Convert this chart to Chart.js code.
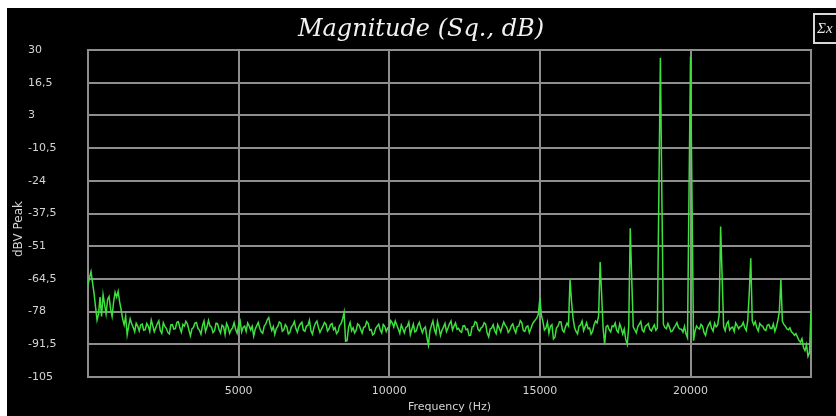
<!DOCTYPE html>
<html lang="en">
<head>
  <meta charset="UTF-8" />
  <title>Magnitude (Sq., dB)</title>
  <script src="https://cdn.jsdelivr.net/npm/chart.js"></script>
  <style>
    html, body { margin: 0; padding: 0; background: #fff; }
    #panel { position: absolute; left: 7px; top: 8px; width: 829px; height: 408px; background: #000; overflow: hidden; }
    #icon { position: absolute; left: 806px; top: 5px; width: 26px; height: 27px; border: 2px solid #d8d8d8;
            color: #e8e8e8; font: italic 15px "Liberation Serif"; line-height: 27px; padding-left: 2px; }
  </style>
</head>
<body>
  <div id="panel">
    <canvas id="spectrum"></canvas>
    <div id="icon">Σx</div>
  </div>

  <script>
    const chartTitle = 'Magnitude (Sq., dB)';
    const yAxisTitle = 'dBV Peak';
    const xAxisTitle = 'Frequency (Hz)';

    // spectrum bins: 0 Hz .. 24000 Hz, every 50 Hz (one row = 1 kHz)
    const freqStart = 0;
    const freqStep = 50;
    const magDb = [
      -67, -64, -61.5, -66, -70.4, -76, -81.5, -79, -72, -80, -71, -75, -79, -73, -71.8, -77, -80, -74, -70, -72,
      -69.7, -74, -77.3, -81, -83.5, -80, -87.6, -84, -81, -83, -84.5, -86.3, -82.8, -84, -86, -83.5, -83.2, -85.7, -85.5, -82.9,
      -84, -86.2, -81.5, -83.8, -86.3, -84.7, -83, -81.8, -85.8, -87, -82.6, -84.1, -84.9, -86.6, -87.2, -83.5, -83.4, -85.2, -85, -82.4,
      -82.2, -84.8, -86.5, -83.3, -84, -82, -83.1, -85.6, -88, -85.1, -84.6, -82.7, -82.5, -84.9, -85.7, -87.3, -83.8, -81.9, -86.2, -84.4,
      -81.6, -83.9, -84.4, -86.7, -85.9, -82.8, -83, -85.4, -86.8, -83.6, -84.2, -87.4, -82.9, -84.3, -87, -85.5, -84.7, -82.6, -85.3, -86.9,
      -83.5, -81.8, -86.4, -84.5, -84, -86.2, -82.7, -83.9, -85.6, -84.1, -88.1, -85.3, -83.9, -82.5, -84.8, -86.3, -86.9, -84, -83.2, -81.4,
      -80.5, -83.6, -85.8, -84.2, -87.4, -85, -84.1, -82.3, -82.8, -86.1, -85.5, -83.4, -84.3, -87.2, -86.7, -84.4, -83.6, -82.1, -85, -86.5,
      -84.2, -83.1, -82.4, -85.7, -86.1, -84, -83.7, -81.6, -85.9, -87.3, -84.5, -82.8, -81.9, -84.6, -86.6, -85.2, -84, -82.5, -83.3, -86,
      -85.1, -83.4, -82.9, -85.5, -84.6, -87.1, -86.3, -83.8, -83, -81.2, -78.3, -90.2, -90, -84.4, -82.5, -85.9, -84.7, -86.8, -85.8, -83.1,
      -83.6, -85.3, -86.9, -84.5, -84.2, -82.1, -82.8, -85.7, -85.4, -87.6, -87.1, -84.9, -84, -83.2, -85.6, -86.8, -83.3, -84.1, -86.2, -84.7,
      -84.6, -81.7, -82.6, -84.3, -81.9, -83.5, -85.2, -87, -83.5, -85.1, -86.8, -84.6, -84.1, -82.4, -87.5, -85.3, -83.2, -86.4, -85.9, -83.6,
      -82.4, -84.9, -86.7, -85, -84.3, -88.7, -91.8, -86, -83.7, -81.8, -85.5, -87.2, -82.1, -84.6, -87.9, -85.7, -84.4, -82.9, -86.3, -84.8,
      -83, -81.9, -85.6, -84, -82.7, -85.3, -84.9, -86.1, -86.5, -83.9, -83.8, -85.5, -85.2, -87.9, -87.7, -84.3, -84.1, -82.2, -82.6, -85.4,
      -86, -84.7, -84.3, -82.6, -83.2, -86.9, -88.4, -85.2, -84.8, -83.4, -85.9, -87.1, -83.4, -84.8, -86.4, -84.2, -82.3, -83.7, -84.5, -86.6,
      -85.7, -83.9, -83.1, -85.4, -86.8, -84.1, -84, -81.7, -82.5, -85.8, -86.2, -84.3, -83.9, -86.7, -85.1, -83.2, -82.2, -81.4, -80.6, -79,
      -72.4, -79.5, -82, -85.6, -84.8, -82.4, -86.9, -84.1, -83.4, -89.3, -88.6, -84.8, -84, -82.2, -82.3, -85.7, -86.5, -84.3, -82.8, -83.9,
      -64.8, -73.8, -80.5, -84.6, -86.2, -87.2, -84, -83.5, -81.9, -85.9, -84.3, -82.6, -85.1, -84.8, -87.3, -86.1, -83.4, -81.9, -82.7, -79.8,
      -57.5, -71, -85, -91.5, -84.2, -83.7, -85.5, -86.4, -83.9, -84.2, -82.7, -85.8, -86.6, -83.1, -84.9, -87.3, -85.2, -89.5, -91.5, -84,
      -43.6, -65, -84.4, -85.5, -86.8, -84.3, -83.2, -82.1, -85.7, -86.4, -84.1, -83.6, -82.9, -85.3, -86, -84.6, -83.5, -85.7, -84.8, -29.5,
      26.8, -31, -83.2, -84.6, -85.1, -82.9, -84.4, -86.3, -86, -84.7, -83.8, -82.6, -84.6, -85.2, -85.3, -86.5, -84.1, -87.2, -88.8, -30.5,
      27.2, -31.5, -90, -86.2, -83.9, -84.8, -85.2, -83.3, -84.1, -86.7, -87.8, -84.9, -83.5, -82.4, -84.9, -86.1, -82.8, -84.3, -83.6, -79.5,
      -42.9, -63.6, -84.2, -85.9, -83, -82.1, -85.6, -84.7, -84.4, -86.2, -82.7, -83.8, -85.1, -84.2, -83.9, -82.5, -84.6, -85.8, -81.7, -70.4,
      -56, -81.8, -83.5, -82.2, -84.7, -86, -82.9, -83.7, -84.1, -85.4, -85.8, -83.6, -83.3, -84.9, -85, -83.1, -86.2, -84.4, -81.5, -78,
      -64.7, -82, -83.3, -84, -85.2, -85.5, -84.7, -86.3, -86.9, -87.8, -87.1, -88.5, -89.9, -90.6, -89.2, -92.8, -94.1, -91.7, -96.5, -95,
      -78
    ];

    const xTickValues = [5000, 10000, 15000, 20000];
    const xTickLabels = ['5000', '10000', '15000', '20000'];
    const yTickValues = [-105, -91.5, -78, -64.5, -51, -37.5, -24, -10.5, 3, 16.5, 30];
    const yTickLabels = ['-105', '-91,5', '-78', '-64,5', '-51', '-37,5', '-24', '-10,5', '3', '16,5', '30'];

    const gridGray = '#8e8e8e';
    const labelGray = '#d4d4d4';

    const points = magDb.map((v, i) => ({ x: freqStart + i * freqStep, y: v }));

    const frameAndText = {
      id: 'frameAndText',
      beforeDatasetsDraw(chart) {
        const { ctx, chartArea: a } = chart;
        ctx.save();
        ctx.strokeStyle = gridGray;
        ctx.lineWidth = 2;
        ctx.strokeRect(a.left, a.top, a.right - a.left, a.bottom - a.top);
        ctx.restore();
      },
      afterDraw(chart) {
        const ctx = chart.ctx;
        ctx.save();
        ctx.fillStyle = '#f2f2f2';
        ctx.textAlign = 'center';
        ctx.textBaseline = 'middle';
        ctx.font = 'italic 24px "DejaVu Serif"';
        ctx.fillText(chartTitle, 414, 22);
        ctx.fillStyle = labelGray;
        ctx.translate(12, 221);
        ctx.rotate(-Math.PI / 2);
        ctx.font = '12px "DejaVu Sans"';
        ctx.fillText(yAxisTitle, 0, 0);
        ctx.restore();
      }
    };

    new Chart(document.getElementById('spectrum'), {
      type: 'line',
      data: {
        datasets: [{
          data: points,
          borderColor: '#3ee03e',
          borderWidth: 1.5,
          pointRadius: 0,
          tension: 0
        }]
      },
      options: {
        responsive: true,
        maintainAspectRatio: false,
        animation: false,
        layout: { padding: { top: 42, left: 21, right: 25, bottom: 0 } },
        plugins: { legend: { display: false }, tooltip: { enabled: false } },
        scales: {
          x: {
            type: 'linear',
            min: 0,
            max: 24000,
            afterBuildTicks: s => { s.ticks = xTickValues.map(v => ({ value: v })); },
            afterFit: s => { s.height = 39; },
            grid: { color: gridGray, lineWidth: 2, drawTicks: false },
            border: { display: false },
            ticks: {
              color: labelGray,
              font: { family: 'DejaVu Sans', size: 11 },
              padding: 8,
              maxRotation: 0,
              callback: (v, i) => xTickLabels[i]
            },
            title: {
              display: true,
              text: xAxisTitle,
              color: labelGray,
              font: { family: 'DejaVu Sans', size: 11 },
              padding: { top: 0, bottom: 2 }
            }
          },
          y: {
            min: -105,
            max: 30,
            afterBuildTicks: s => { s.ticks = yTickValues.map(v => ({ value: v })); },
            afterFit: s => { s.width = 60; },
            grid: { color: gridGray, lineWidth: 2, drawTicks: false },
            border: { display: false },
            ticks: {
              color: labelGray,
              font: { family: 'DejaVu Sans', size: 11 },
              crossAlign: 'far',
              callback: (v, i) => yTickLabels[i]
            }
          }
        }
      },
      plugins: [frameAndText]
    });
  </script>
</body>
</html>
